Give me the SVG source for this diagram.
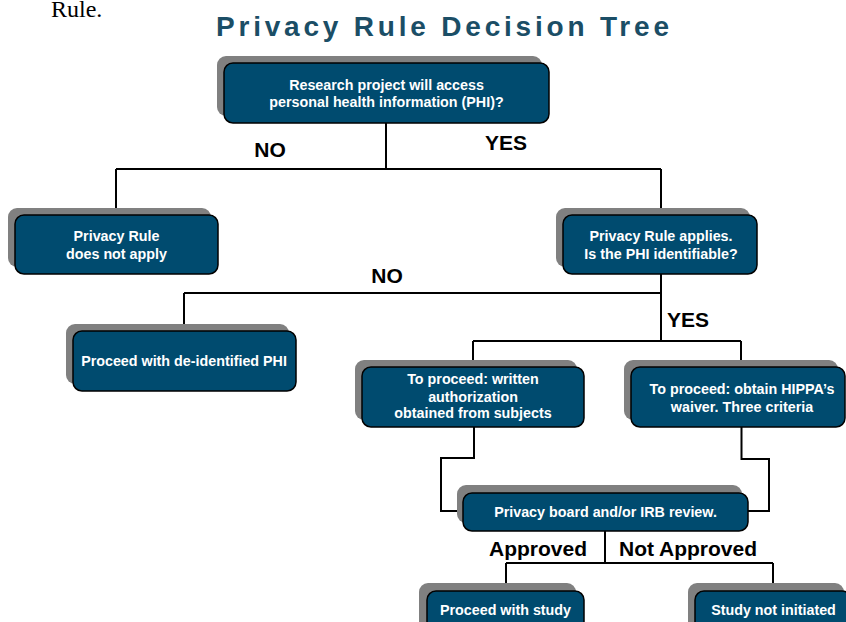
<svg xmlns="http://www.w3.org/2000/svg" width="846" height="622" viewBox="0 0 846 622">
<style>
.sh{fill:#808080;}
.bx{fill:#004b6f;stroke:#000;stroke-width:1.5;}
.nt{font-family:"Liberation Sans",Arial,sans-serif;font-weight:bold;font-size:14.3px;fill:#fff;text-anchor:middle;}
.lb{font-family:"Liberation Sans",Arial,sans-serif;font-weight:bold;font-size:21px;fill:#000;}
.cn{fill:none;stroke:#000;stroke-width:2;}
</style>
<rect width="846" height="622" fill="#fff"/>
<text x="51" y="17" font-family="'Liberation Serif','Times New Roman',serif" font-size="24" fill="#000">Rule.</text>
<text x="216" y="36" font-family="'Liberation Sans',Arial,sans-serif" font-weight="bold" font-size="28" letter-spacing="3.8" fill="#1b4e66">Privacy Rule Decision Tree</text>

<g id="connectors" class="cn">
<path d="M386,123 V169 M116,169 H661 M116,169 V209 M661,169 V209"/>
<path d="M661,274 V341 M184,293 H661 M184,293 V324"/>
<path d="M473,341 H741 M473,341 V361 M741,341 V361"/>
<path d="M474,427 V458 H441 V511 H457"/>
<path d="M741.5,427 V459 H769 V511 H748"/>
<path d="M605,531 V563 M506,563 H773 M506,563 V584 M773,563 V584"/>
</g>

<g id="labels" class="lb">
<text x="270" y="157" text-anchor="middle">NO</text>
<text x="506" y="150" text-anchor="middle">YES</text>
<text x="387" y="283" text-anchor="middle">NO</text>
<text x="667" y="327">YES</text>
<text x="489" y="556">Approved</text>
<text x="619" y="556">Not Approved</text>
</g>

<g id="n-access">
<rect class="sh" x="217" y="56" width="325" height="60" rx="9"/>
<rect class="bx" x="224" y="63" width="325" height="60" rx="9"/>
<text class="nt" x="386.5" y="90">Research project will access</text>
<text class="nt" x="386.5" y="107">personal health information (PHI)?</text>
</g>

<g id="n-notapply">
<rect class="sh" x="8" y="208" width="203" height="59" rx="9"/>
<rect class="bx" x="15" y="215" width="203" height="59" rx="9"/>
<text class="nt" x="116.5" y="241">Privacy Rule</text>
<text class="nt" x="116.5" y="259">does not apply</text>
</g>

<g id="n-applies">
<rect class="sh" x="556" y="208" width="194" height="59" rx="9"/>
<rect class="bx" x="563" y="215" width="194" height="59" rx="9"/>
<text class="nt" x="661" y="241">Privacy Rule applies.</text>
<text class="nt" x="661" y="259">Is the PHI identifiable?</text>
</g>

<g id="n-deid">
<rect class="sh" x="66" y="324" width="223" height="60" rx="9"/>
<rect class="bx" x="73" y="331" width="223" height="60" rx="9"/>
<text class="nt" x="184" y="366">Proceed with de-identified PHI</text>
</g>

<g id="n-written">
<rect class="sh" x="355" y="360" width="222" height="60" rx="9"/>
<rect class="bx" x="362" y="367" width="222" height="60" rx="9"/>
<text class="nt" x="473" y="384">To proceed: written</text>
<text class="nt" x="473" y="401.5">authorization</text>
<text class="nt" x="473" y="418">obtained from subjects</text>
</g>

<g id="n-waiver">
<rect class="sh" x="624" y="360" width="214" height="60" rx="9"/>
<rect class="bx" x="631" y="367" width="214" height="60" rx="9"/>
<text class="nt" x="742" y="394">To proceed: obtain HIPPA’s</text>
<text class="nt" x="742" y="412">waiver. Three criteria</text>
</g>

<g id="n-review">
<rect class="sh" x="457" y="485" width="285" height="38" rx="9"/>
<rect class="bx" x="463" y="493" width="285" height="38" rx="9"/>
<text class="nt" x="605.5" y="517">Privacy board and/or IRB review.</text>
</g>

<g id="n-study">
<rect class="sh" x="419" y="583" width="157" height="50" rx="9"/>
<rect class="bx" x="427" y="591" width="157" height="50" rx="9"/>
<text class="nt" x="505.5" y="615">Proceed with study</text>
</g>

<g id="n-notinit">
<rect class="sh" x="688" y="583" width="156" height="50" rx="9"/>
<rect class="bx" x="695" y="591" width="156" height="50" rx="9"/>
<text class="nt" x="773.5" y="615">Study not initiated</text>
</g>
</svg>
